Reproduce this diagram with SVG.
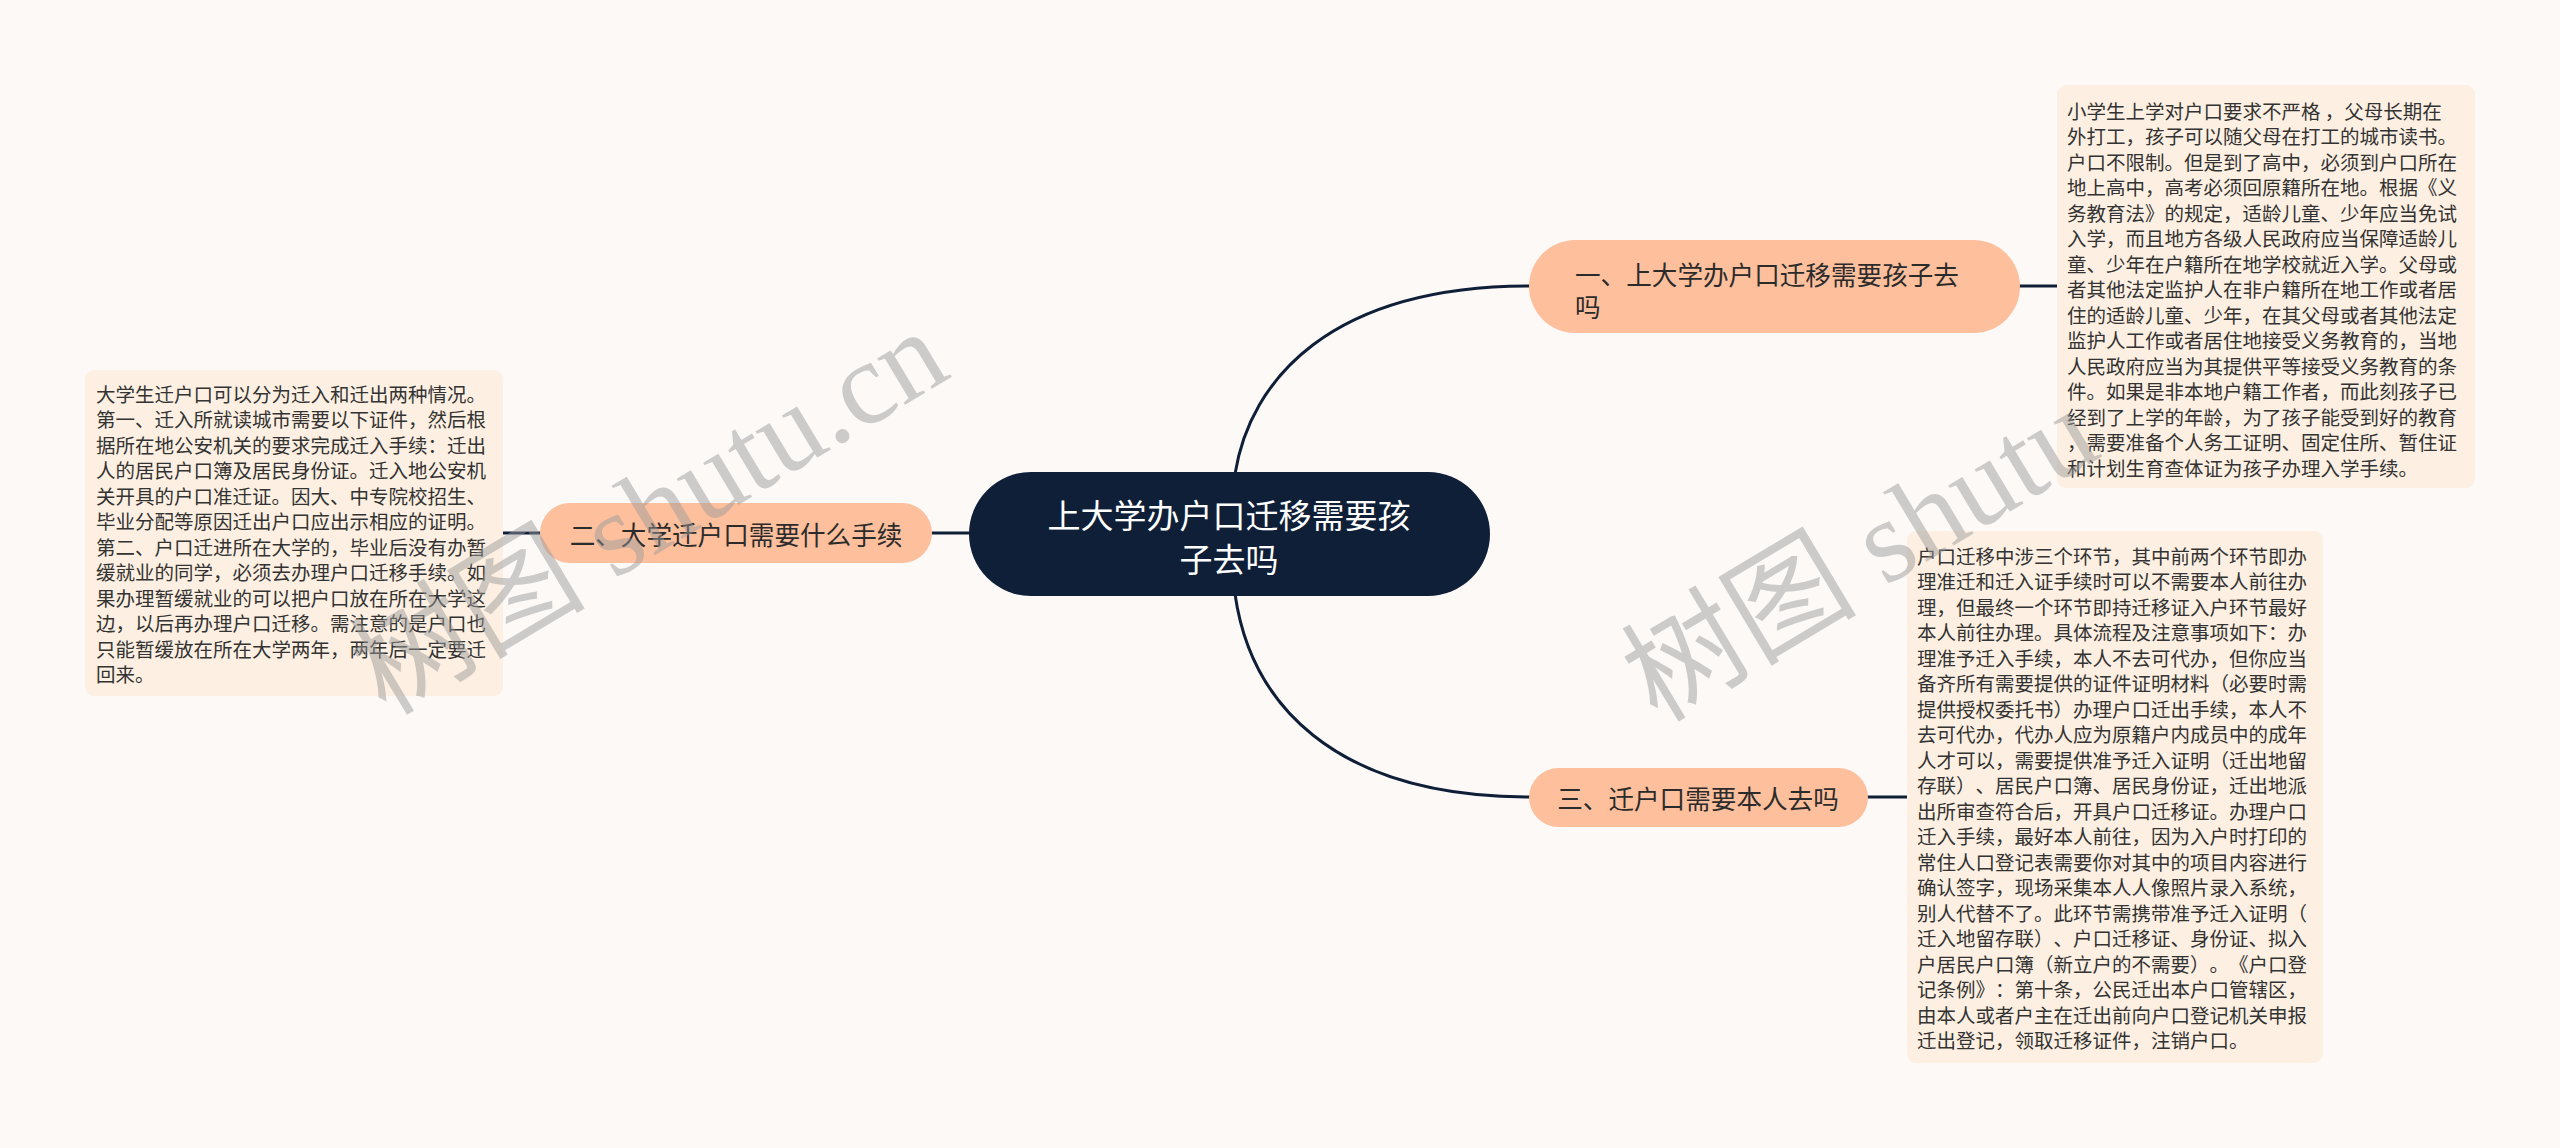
<svg xmlns="http://www.w3.org/2000/svg" width="2560" height="1148" viewBox="0 0 2560 1148">
<style>
text{text-spacing-trim:space-all;font-kerning:none}
.bg{fill:#fcf9f7}
.edge{fill:none;stroke:#0f1f38;stroke-width:3}
.root{fill:#0f1f38}
.rootT{fill:#ffffff;font-family:"Noto Sans CJK SC","Noto Sans",sans-serif;font-size:33px;text-anchor:middle;dominant-baseline:central}
.br{fill:#fdbf9c}
.brT{fill:#2b2b2b;font-family:"Noto Sans CJK SC","Noto Sans",sans-serif;font-size:25.6px;dominant-baseline:central}
.box{fill:#fdf0e2}
.boxT{fill:#333333;font-family:"Noto Sans CJK SC","Noto Sans",sans-serif;font-size:19.5px;dominant-baseline:central}
.wm{fill:#9a9a9a;opacity:0.48;font-family:"Liberation Serif","Noto Sans CJK SC",serif;font-size:118px;text-anchor:middle}
</style>
<rect class="bg" x="0" y="0" width="2560" height="1148"/>
<g id="connectors">
<path class="edge" d="M1235 474 C1250 380 1330 286 1530 286"/>
<path class="edge" d="M1235 594 C1250 700 1330 797 1530 797"/>
<path class="edge" d="M932 533 L970 533"/>
<path class="edge" d="M503 533 L540 533"/>
<path class="edge" d="M2018 286 L2057 286"/>
<path class="edge" d="M1866 797 L1907 797"/>
</g>
<g id="root">
<rect class="root" x="969" y="472" width="521" height="124" rx="62"/>
<text class="rootT" x="1229" y="514">上大学办户口迁移需要孩</text>
<text class="rootT" x="1229" y="558">子去吗</text>
</g>
<g id="node1">
<rect class="br" x="1529" y="240" width="491" height="93" rx="46.5"/>
<text class="brT" x="1575" y="273">一、上大学办户口迁移需要孩子去</text>
<text class="brT" x="1575" y="305">吗</text>
</g>
<g id="node2">
<rect class="br" x="540" y="503" width="392" height="60" rx="30"/>
<text class="brT" x="736" y="533" text-anchor="middle">二、大学迁户口需要什么手续</text>
</g>
<g id="node3">
<rect class="br" x="1529" y="768" width="339" height="59" rx="29.5"/>
<text class="brT" x="1698" y="797" text-anchor="middle">三、迁户口需要本人去吗</text>
</g>
<g id="detail1">
<rect class="box" x="2057" y="85" width="418" height="403" rx="9"/>
<text class="boxT" x="2067" y="110">小学生上学对户口要求不严格 ，父母长期在</text>
<text class="boxT" x="2067" y="135.5">外打工，孩子可以随父母在打工的城市读书。</text>
<text class="boxT" x="2067" y="161">户口不限制。但是到了高中，必须到户口所在</text>
<text class="boxT" x="2067" y="186.5">地上高中，高考必须回原籍所在地。根据《义</text>
<text class="boxT" x="2067" y="212">务教育法》的规定，适龄儿童、少年应当免试</text>
<text class="boxT" x="2067" y="237.5">入学，而且地方各级人民政府应当保障适龄儿</text>
<text class="boxT" x="2067" y="263">童、少年在户籍所在地学校就近入学。父母或</text>
<text class="boxT" x="2067" y="288.5">者其他法定监护人在非户籍所在地工作或者居</text>
<text class="boxT" x="2067" y="314">住的适龄儿童、少年，在其父母或者其他法定</text>
<text class="boxT" x="2067" y="339.5">监护人工作或者居住地接受义务教育的，当地</text>
<text class="boxT" x="2067" y="365">人民政府应当为其提供平等接受义务教育的条</text>
<text class="boxT" x="2067" y="390.5">件。如果是非本地户籍工作者，而此刻孩子已</text>
<text class="boxT" x="2067" y="416">经到了上学的年龄，为了孩子能受到好的教育</text>
<text class="boxT" x="2067" y="441.5">，需要准备个人务工证明、固定住所、暂住证</text>
<text class="boxT" x="2067" y="467">和计划生育查体证为孩子办理入学手续。</text>
</g>
<g id="detail2">
<rect class="box" x="85" y="370" width="418" height="326" rx="9"/>
<text class="boxT" x="96" y="393">大学生迁户口可以分为迁入和迁出两种情况。</text>
<text class="boxT" x="96" y="418.5">第一、迁入所就读城市需要以下证件，然后根</text>
<text class="boxT" x="96" y="444">据所在地公安机关的要求完成迁入手续：迁出</text>
<text class="boxT" x="96" y="469.5">人的居民户口簿及居民身份证。迁入地公安机</text>
<text class="boxT" x="96" y="495">关开具的户口准迁证。因大、中专院校招生、</text>
<text class="boxT" x="96" y="520.5">毕业分配等原因迁出户口应出示相应的证明。</text>
<text class="boxT" x="96" y="546">第二、户口迁进所在大学的，毕业后没有办暂</text>
<text class="boxT" x="96" y="571.5">缓就业的同学，必须去办理户口迁移手续。如</text>
<text class="boxT" x="96" y="597">果办理暂缓就业的可以把户口放在所在大学这</text>
<text class="boxT" x="96" y="622.5">边，以后再办理户口迁移。需注意的是户口也</text>
<text class="boxT" x="96" y="648">只能暂缓放在所在大学两年，两年后一定要迁</text>
<text class="boxT" x="96" y="673.5">回来。</text>
</g>
<g id="detail3">
<rect class="box" x="1907" y="531" width="416" height="532" rx="9"/>
<text class="boxT" x="1917" y="555">户口迁移中涉三个环节，其中前两个环节即办</text>
<text class="boxT" x="1917" y="580.5">理准迁和迁入证手续时可以不需要本人前往办</text>
<text class="boxT" x="1917" y="606">理，但最终一个环节即持迁移证入户环节最好</text>
<text class="boxT" x="1917" y="631.5">本人前往办理。具体流程及注意事项如下：办</text>
<text class="boxT" x="1917" y="657">理准予迁入手续，本人不去可代办，但你应当</text>
<text class="boxT" x="1917" y="682.5">备齐所有需要提供的证件证明材料（必要时需</text>
<text class="boxT" x="1917" y="708">提供授权委托书）办理户口迁出手续，本人不</text>
<text class="boxT" x="1917" y="733.5">去可代办，代办人应为原籍户内成员中的成年</text>
<text class="boxT" x="1917" y="759">人才可以，需要提供准予迁入证明（迁出地留</text>
<text class="boxT" x="1917" y="784.5">存联）、居民户口簿、居民身份证，迁出地派</text>
<text class="boxT" x="1917" y="810">出所审查符合后，开具户口迁移证。办理户口</text>
<text class="boxT" x="1917" y="835.5">迁入手续，最好本人前往，因为入户时打印的</text>
<text class="boxT" x="1917" y="861">常住人口登记表需要你对其中的项目内容进行</text>
<text class="boxT" x="1917" y="886.5">确认签字，现场采集本人人像照片录入系统，</text>
<text class="boxT" x="1917" y="912">别人代替不了。此环节需携带准予迁入证明（</text>
<text class="boxT" x="1917" y="937.5">迁入地留存联）、户口迁移证、身份证、拟入</text>
<text class="boxT" x="1917" y="963">户居民户口簿（新立户的不需要）。《户口登</text>
<text class="boxT" x="1917" y="988.5">记条例》：第十条，公民迁出本户口管辖区，</text>
<text class="boxT" x="1917" y="1014">由本人或者户主在迁出前向户口登记机关申报</text>
<text class="boxT" x="1917" y="1039.5">迁出登记，领取迁移证件，注销户口。</text>
</g>
<g id="watermarks">
<text class="wm" transform="translate(649 512) rotate(-31)" x="0" y="40">树图 shutu.cn</text>
<text class="wm" transform="translate(1860 555) rotate(-31)" x="0" y="40">树图 shutu</text>
</g>
</svg>
